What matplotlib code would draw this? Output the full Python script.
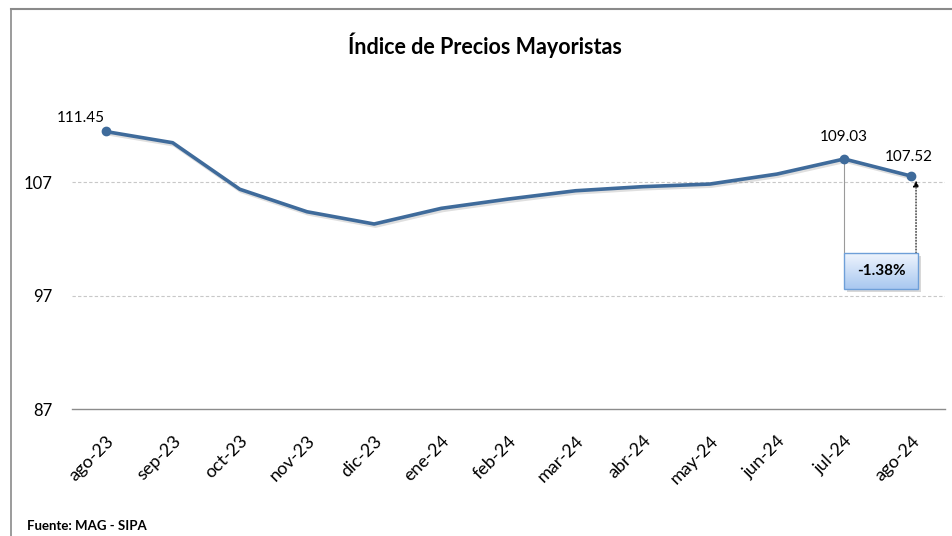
"""
Índice de Precios Mayoristas - line chart recreation
"""

import numpy as np
import matplotlib.pyplot as plt
import matplotlib.patheffects as pe
from matplotlib.lines import Line2D
from matplotlib.patches import Rectangle
from matplotlib.colors import LinearSegmentedColormap
from matplotlib.transforms import offset_copy

plt.rcParams['font.family'] = ['Lato', 'DejaVu Sans']

# datos
meses = ['ago-23', 'sep-23', 'oct-23', 'nov-23', 'dic-23', 'ene-24', 'feb-24',
         'mar-24', 'abr-24', 'may-24', 'jun-24', 'jul-24', 'ago-24']
indice = [111.45, 110.46, 106.36, 104.38, 103.30, 104.68, 105.50,
          106.23, 106.59, 106.82, 107.70, 109.03, 107.52]
y_ticks = [87, 97, 107]
# puntos con etiqueta
etiquetados = [0, 11, 12]

LINE_COLOR = '#3F6B9B'


def main():
    fig = plt.figure(figsize=(9.53, 5.36), dpi=100)
    ax = fig.add_axes([0.0755, 0.2369, 0.916, 0.6353])

    x = list(range(len(meses)))
    ax.plot(x, indice, color=LINE_COLOR, lw=2.6, solid_capstyle='round',
            path_effects=[pe.SimpleLineShadow(offset=(1, -1.5), shadow_color='gray', alpha=0.25),
                          pe.Normal()], zorder=3)
    ax.plot([x[i] for i in etiquetados], [indice[i] for i in etiquetados], 'o',
            color=LINE_COLOR, ms=6, zorder=4)

    # etiquetas de datos
    ax.annotate(f'{indice[0]:.2f}', (x[0], indice[0]), xytext=(-18, 5),
                textcoords='offset points', ha='center', va='bottom', fontsize=11)
    ax.annotate(f'{indice[11]:.2f}', (x[11], indice[11]), xytext=(0, 11),
                textcoords='offset points', ha='center', va='bottom', fontsize=11)
    ax.annotate(f'{indice[12]:.2f}', (x[12], indice[12]), xytext=(-2, 9),
                textcoords='offset points', ha='center', va='bottom', fontsize=11)

    ax.set_yticks(y_ticks)
    ax.set_xticks(x)
    ax.set_xticklabels(meses, rotation=45, ha='right', rotation_mode='anchor', fontsize=13)
    ax.tick_params(axis='y', length=0, labelsize=12, pad=14)
    ax.tick_params(axis='x', length=0, pad=17)

    for y in y_ticks[1:]:
        ax.axhline(y, color='#C8C8C8', lw=0.8, ls=(0, (3, 2)), zorder=1)
    for s in ['top', 'right', 'left']:
        ax.spines[s].set_visible(False)
    ax.spines['bottom'].set_color('#8C8C8C')
    ax.spines['bottom'].set_linewidth(1.0)

    # variación jul-24 -> ago-24
    var = (indice[12] / indice[11] - 1) * 100
    box_bottom, box_top = 97.57, 100.74
    box_w = 1.1
    ax.plot([x[11], x[11]], [indice[11], box_top], color='#9A9A9A', lw=0.8, zorder=2)
    ax.annotate('', xy=(x[12] + 0.07, indice[12] - 0.4), xytext=(x[12] + 0.07, box_top),
                arrowprops=dict(arrowstyle='-|>', color='black', lw=0.8, ls=':',
                                mutation_scale=9, shrinkA=0, shrinkB=0), zorder=2)
    # sombra de la caja
    sombra = offset_copy(ax.transData, fig=fig, x=2, y=-2, units='points')
    ax.add_patch(Rectangle((x[11], box_bottom), box_w, box_top - box_bottom,
                           facecolor='#BFBFBF', edgecolor='none', alpha=0.6,
                           transform=sombra, zorder=4.5))
    # fondo degradado de la caja
    grad = LinearSegmentedColormap.from_list('caja', ['#A9C8F0', '#EEF4FD'])
    ax.imshow(np.linspace(0, 1, 50).reshape(-1, 1), cmap=grad, aspect='auto', origin='lower',
              extent=(x[11], x[11] + box_w, box_bottom, box_top), zorder=5)
    ax.add_patch(Rectangle((x[11], box_bottom), box_w, box_top - box_bottom,
                           facecolor='none', edgecolor='#6E9FD8', lw=1.0, zorder=6))
    ax.text(x[11] + box_w / 2, (box_bottom + box_top) / 2, f'{var:.2f}%', ha='center',
            va='center', fontsize=11, fontweight='bold', zorder=7)

    ax.set_xlim(-0.5, len(meses) - 0.5)
    ax.set_ylim(87, 117)

    fig.text(0.509, 0.916, 'Índice de Precios Mayoristas', ha='center', va='center',
             fontsize=15.5, fontweight='bold')
    fig.text(0.028, 0.019, 'Fuente: MAG - SIPA', ha='left', va='center',
             fontsize=9.5, fontweight='bold')

    # marco
    fig.add_artist(Line2D([11 / 953, 11 / 953], [0, 1 - 9 / 536], color='#8A8A8A', lw=1.2,
                          transform=fig.transFigure))
    fig.add_artist(Line2D([11 / 953, 1], [1 - 9 / 536, 1 - 9 / 536], color='#8A8A8A', lw=1.5,
                          transform=fig.transFigure))

    fig.savefig('out.png', dpi=100)
    plt.close(fig)


if __name__ == '__main__':
    main()
